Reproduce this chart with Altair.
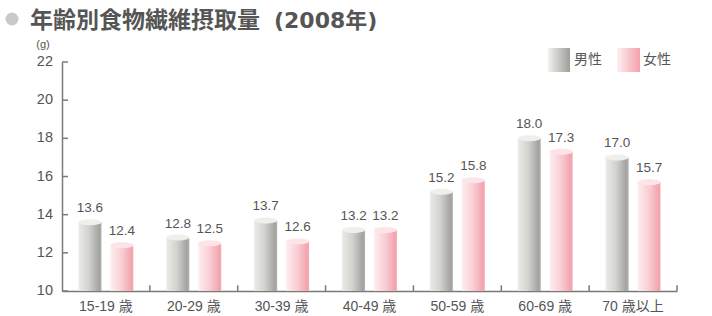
import altair as alt
import pandas as pd

groups = ["15-19 歳", "20-29 歳", "30-39 歳", "40-49 歳", "50-59 歳", "60-69 歳", "70 歳以上"]
sexes = ["男性", "女性"]
male = [13.6, 12.8, 13.7, 13.2, 15.2, 18.0, 17.0]
female = [12.4, 12.5, 12.6, 13.2, 15.8, 17.3, 15.7]
y_ticks = [10, 12, 14, 16, 18, 20, 22]
title_main = "年齢別食物繊維摂取量"
title_year = "(2008年)"
unit_text = "(g)"

FONT = "Noto Sans CJK JP"
NUMFONT = "Liberation Sans, Noto Sans CJK JP"
TXT = "#555555"
AX = "#7a7a7a"

rows = []
for g, m, f in zip(groups, male, female):
    rows.append({"group": g, "sex": sexes[0], "value": m})
    rows.append({"group": g, "sex": sexes[1], "value": f})
df = pd.DataFrame(rows)

W, H = 615, 229

xenc = alt.X("group:N", sort=groups,
             scale=alt.Scale(domain=groups, paddingInner=0, paddingOuter=0),
             axis=alt.Axis(title=None, labelAngle=0, ticks=False, domainColor=AX,
                           domainWidth=1.5, labelFont=NUMFONT, labelFontSize=14,
                           labelColor=TXT, labelPadding=8, labelOverlap=False))
xoff = alt.XOffset("sex:N", sort=sexes,
                   scale=alt.Scale(domain=sexes, paddingInner=0.28, paddingOuter=0.515))
yscale = alt.Scale(domain=[10, 22], zero=False, nice=False)
yenc = alt.Y("value:Q", scale=yscale,
             axis=alt.Axis(title=None, values=y_ticks, ticks=False, grid=False,
                           labels=False, domainColor=AX, domainWidth=1.5))

base = alt.Chart(df)

grad_m = alt.Gradient(gradient="linear", x1=0, x2=1, y1=0, y2=0,
                      stops=[alt.GradientStop(offset=0, color="#ebebe7"),
                             alt.GradientStop(offset=0.45, color="#d2d2ce"),
                             alt.GradientStop(offset=0.9, color="#a3a3a0"),
                             alt.GradientStop(offset=1, color="#b0b0ad")])
grad_f = alt.Gradient(gradient="linear", x1=0, x2=1, y1=0, y2=0,
                      stops=[alt.GradientStop(offset=0, color="#fdeef0"),
                             alt.GradientStop(offset=0.5, color="#f9cdd3"),
                             alt.GradientStop(offset=0.92, color="#f2a3ae"),
                             alt.GradientStop(offset=1, color="#f4b0b9")])

bars_m = base.transform_filter(alt.datum.sex == sexes[0]).mark_bar(color=grad_m).encode(
    x=xenc, xOffset=xoff, y=yenc, y2=alt.datum(10))
bars_f = base.transform_filter(alt.datum.sex == sexes[1]).mark_bar(color=grad_f).encode(
    x=xenc, xOffset=xoff, y=yenc, y2=alt.datum(10))

ellipse = "M-1,0A1,0.26,0,1,1,1,0A1,0.26,0,1,1,-1,0Z"
tops = base.mark_point(shape=ellipse, filled=True, size=529, opacity=1).encode(
    x=xenc, xOffset=xoff, y=yenc,
    color=alt.Color("sex:N", scale=alt.Scale(domain=sexes, range=["#efefec", "#fde4e8"]),
                    legend=None))

labels = base.mark_text(font=NUMFONT, fontSize=13.5, color=TXT, dy=-14).encode(
    x=xenc, xOffset=xoff, y=yenc, text=alt.Text("value:Q", format=".1f"))

ytick_df = pd.DataFrame({"t": y_ticks})
yticks = alt.Chart(ytick_df).mark_rule(color=AX, strokeWidth=1.5).encode(
    y=alt.Y("t:Q", scale=yscale), x=alt.value(0), x2=alt.value(6))
ylabels = alt.Chart(ytick_df).mark_text(font=NUMFONT, fontSize=14.5, color=TXT,
                                        align="right", baseline="middle").encode(
    y=alt.Y("t:Q", scale=yscale), x=alt.value(-9), text=alt.Text("t:Q"))

sep_df = pd.DataFrame({"group": groups})
seps = alt.Chart(sep_df).mark_rule(color=AX, strokeWidth=1.5).encode(
    x=alt.X("group:N", sort=groups, bandPosition=1), y=alt.datum(10), y2=alt.datum(10.3))

leg_df = pd.DataFrame({"sex": sexes})
leg_m = alt.Chart(leg_df).transform_filter(alt.datum.sex == sexes[0]).mark_rect(color=alt.Gradient(
    gradient="linear", x1=0, x2=1, y1=0, y2=0,
    stops=[alt.GradientStop(offset=0, color="#f2f2ef"),
           alt.GradientStop(offset=1, color="#9d9d9a")])).encode(
    x=alt.value(486), x2=alt.value(508), y=alt.value(-14), y2=alt.value(10))
leg_f = alt.Chart(leg_df).transform_filter(alt.datum.sex == sexes[1]).mark_rect(color=alt.Gradient(
    gradient="linear", x1=0, x2=1, y1=0, y2=0,
    stops=[alt.GradientStop(offset=0, color="#fdf0f2"),
           alt.GradientStop(offset=1, color="#f4a0ac")])).encode(
    x=alt.value(555), x2=alt.value(578), y=alt.value(-14), y2=alt.value(10))
leg_t_m = alt.Chart(leg_df).transform_filter(alt.datum.sex == sexes[0]).mark_text(
    font=FONT, fontSize=14, color=TXT, align="left", baseline="middle").encode(
    text="sex:N", x=alt.value(512), y=alt.value(-2))
leg_t_f = alt.Chart(leg_df).transform_filter(alt.datum.sex == sexes[1]).mark_text(
    font=FONT, fontSize=14, color=TXT, align="left", baseline="middle").encode(
    text="sex:N", x=alt.value(581), y=alt.value(-2))

title_df = pd.DataFrame({"t": [title_main], "y": [title_year]})
title1 = alt.Chart(title_df).mark_text(font=FONT, fontSize=23, fontWeight="bold", color=TXT,
                                       align="left", baseline="middle").encode(
    text="t:N", x=alt.value(-32), y=alt.value(-41))
title2 = alt.Chart(title_df).mark_text(font="DejaVu Sans, Noto Sans CJK JP", fontSize=22,
                                       fontWeight="bold", color=TXT,
                                       align="left", baseline="middle").encode(
    text="y:N", x=alt.value(212), y=alt.value(-41))
bullet = alt.Chart(title_df).mark_point(shape="circle", filled=True, size=169, opacity=1,
                                        color="#c9c9c9").encode(
    x=alt.value(-50), y=alt.value(-43))
unit_df = pd.DataFrame({"u": [unit_text]})
unit = alt.Chart(unit_df).mark_text(font=NUMFONT, fontSize=11, color=TXT, align="center",
                                    baseline="middle").encode(
    text="u:N", x=alt.value(-19), y=alt.value(-17))

chart = alt.layer(bars_m, bars_f, tops, labels, yticks, ylabels, seps,
                  leg_m, leg_f, leg_t_m, leg_t_f, title1, title2, bullet, unit).properties(
    width=W, height=H,
    autosize=alt.AutoSizeParams(type="none"),
    padding={"left": 62, "top": 62, "right": 35, "bottom": 25},
    background="white",
).configure_view(stroke=None)

chart.save("out.html", embed_options={"renderer": "svg", "actions": False})
